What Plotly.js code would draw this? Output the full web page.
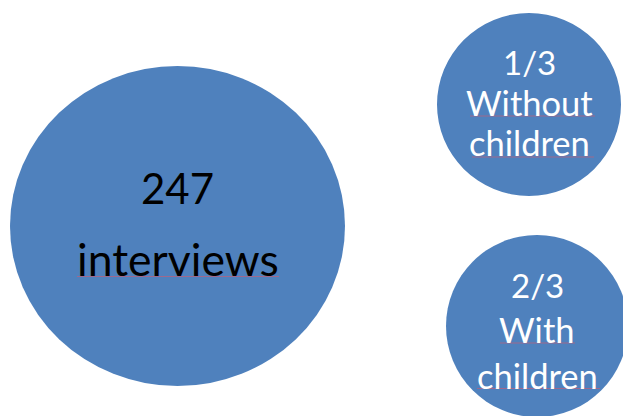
<!DOCTYPE html>
<html>
<head>
<meta charset="utf-8">
<script src="https://cdn.plot.ly/plotly-3.0.1.min.js"></script>
<style>html,body{margin:0;padding:0;background:#fff;}#chart{width:623px;height:416px;}</style>
</head>
<body>
<div id="chart"></div>
<script>
// Data
var shares = ['247', '1/3', '2/3'];
var groups = ['interviews', 'Without children', 'With children'];

// Geometry / style (kept separate from data)
var circles = [
  {cx: 177.5, cy: 226, rx: 167.5, ry: 160},
  {cx: 529, cy: 104.5, rx: 92, ry: 91.5},
  {cx: 537, cy: 326, rx: 91, ry: 91}
];
var textColor = ['#000000', '#ffffff', '#ffffff'];
var shareSize = [42, 33, 33];
var wordSize = [44.5, 34.5, 34.5];
var lineYs = [[188, 258], [62, 102, 142], [285, 329, 375]];
// spell-check squiggle underlines: [x0, x1, y]
var squiggles = [[77, 279, 276.5], [470, 595, 116], [472, 594, 157], [500, 575, 343], [477, 600, 388.5]];
var fill = '#4F81BD';
var squiggleColor = '#c0607a';

var shapes = circles.map(function (c) {
  return {type: 'circle', xref: 'x', yref: 'y', x0: c.cx - c.rx, x1: c.cx + c.rx,
          y0: c.cy - c.ry, y1: c.cy + c.ry, fillcolor: fill, line: {width: 0}, layer: 'below'};
});
squiggles.forEach(function (s) {
  shapes.push({type: 'line', xref: 'x', yref: 'y', x0: s[0], x1: s[1], y0: s[2], y1: s[2],
    line: {color: squiggleColor, width: 1}, opacity: 0.7, layer: 'above'});
});

var annotations = [];
circles.forEach(function (c, i) {
  var words = groups[i].split(' ');
  var lines = [shares[i]].concat(i === 0 ? [groups[i]] : words);
  lines.forEach(function (t, j) {
    annotations.push({x: c.cx, y: lineYs[i][j], xref: 'x', yref: 'y', text: t, showarrow: false,
      xanchor: 'center', yanchor: 'middle',
      font: {family: 'Lato, sans-serif', size: j === 0 ? shareSize[i] : wordSize[i], color: textColor[i]}});
  });
});

var layout = {
  width: 623, height: 416,
  margin: {l: 0, r: 0, t: 0, b: 0},
  paper_bgcolor: '#ffffff', plot_bgcolor: '#ffffff',
  xaxis: {range: [0, 623], visible: false, fixedrange: true},
  yaxis: {range: [416, 0], visible: false, fixedrange: true},
  showlegend: false,
  shapes: shapes,
  annotations: annotations
};
Plotly.newPlot('chart', [{x: [], y: [], type: 'scatter', hoverinfo: 'skip'}], layout, {displayModeBar: false, staticPlot: true});
</script>
</body>
</html>
